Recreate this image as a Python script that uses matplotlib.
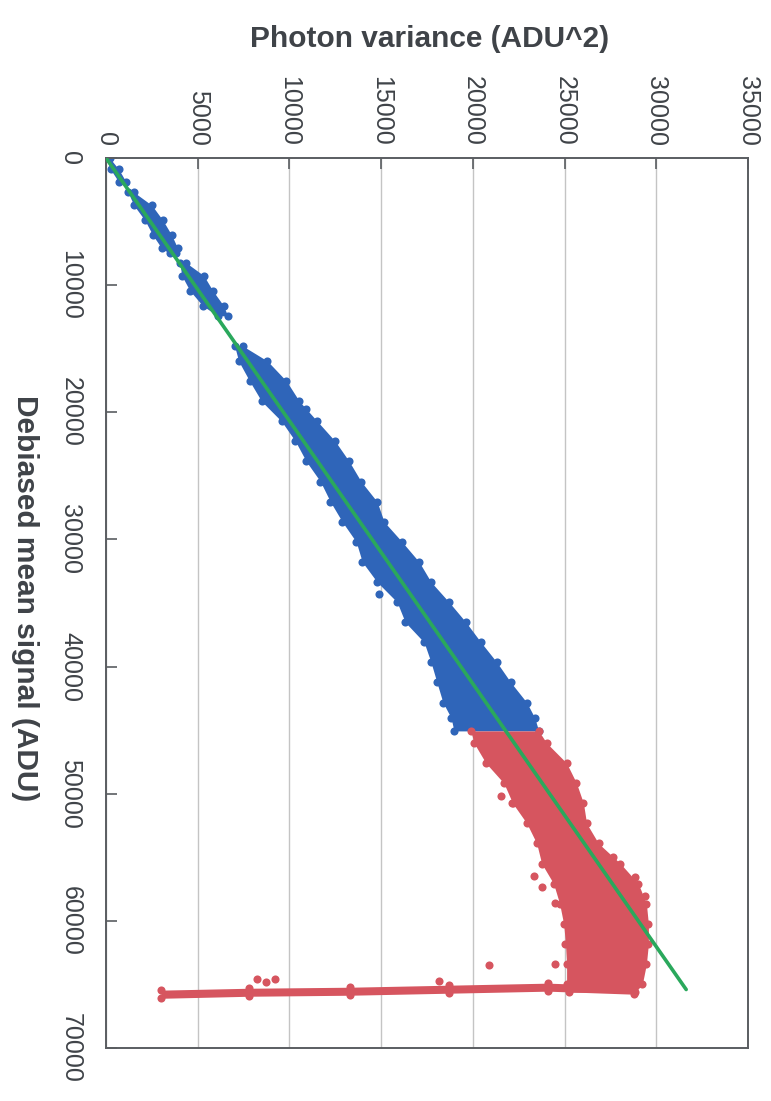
import matplotlib
matplotlib.use("Agg")
import matplotlib.pyplot as plt

# ---------------- data ----------------
# Axis ticks
signal_ticks = [0, 10000, 20000, 30000, 40000, 50000, 60000, 70000]
variance_ticks = [0, 5000, 10000, 15000, 20000, 25000, 30000, 35000]

# Blue (linear regime) point clouds: signal rows with min / max variance
blue1_signal = [0, 900, 1900]
blue1_var_lo = [0, 250, 700]
blue1_var_hi = [200, 700, 1100]

blue2_signal = [2690, 3720, 4900, 6090, 7110, 7510]
blue2_var_lo = [1200, 1520, 2120, 2560, 3040, 3480]
blue2_var_hi = [1520, 2500, 3100, 3590, 3910, 3800]

blue3_signal = [8220, 9250, 10430, 11620, 12410]
blue3_var_lo = [4020, 4130, 4570, 5270, 6090]
blue3_var_hi = [4350, 5330, 5820, 6410, 6630]

blue4_signal = [14780, 15970, 17550, 19130, 20710, 22290, 23870, 25450, 27030,
                28610, 30190, 31770, 33350, 34930, 36510, 38090, 39670, 41250,
                42830, 44020, 45060]
blue4_var_lo = [7010, 7230, 7830, 8480, 9570, 10330, 10920, 11690, 12230,
                12880, 13640, 13970, 14780, 15870, 16310, 17340, 17720, 18040,
                18370, 18810, 18970]
blue4_var_hi = [7450, 8800, 9840, 10540, 11520, 12500, 13260, 13910, 14780,
                15160, 16140, 17070, 17720, 18700, 19620, 20440, 21310, 22070,
                22940, 23370, 23590]

blue_out_var = [10920, 13100, 14890]
blue_out_signal = [19760, 24030, 34310]

# Red (non-linear / saturation regime)
red_signal = [45060, 46010, 47590, 49170, 50750, 52330, 53910, 55490, 57070,
              58650, 60240, 61820, 63400, 64980, 65610]
red_var_lo = [19890, 20060, 20710, 21690, 22170, 22940, 23480, 23750, 24400,
              24730, 24950, 25050, 25110, 25110, 25220]
red_var_hi = [23590, 24020, 25110, 25650, 26030, 26200, 26850, 28040, 29020,
              29460, 29570, 29570, 29460, 29240, 28860]

# Saturated (horizontal) streak
sat_var = [3000, 7800, 13300, 18700, 24100, 28800]
sat_signal_top = [65450, 65300, 65220, 65060, 64900, 65140]
sat_signal_bot = [66090, 65930, 65850, 65690, 65530, 65770]

red_out_var = [21520, 22120, 23320, 23750, 24460, 8210, 8700, 9190, 18150,
               20870, 24460, 27660, 28860, 29400]
red_out_signal = [50200, 50750, 56440, 57310, 58580, 64590, 64820, 64590,
                  64740, 63480, 63400, 54940, 56520, 58020]

# Linear fit
fit_signal = [0, 65400]
fit_variance = [0, 31630]

# ---------------- styling ----------------
BLUE = "#2f65b9"
RED = "#d6555f"
GREEN = "#2aa85c"
TEXT = "#3f4348"
SPINE = "#5a5d61"

plt.rcParams['font.family'] = ['Liberation Sans', 'DejaVu Sans']

fig = plt.figure(figsize=(7.71, 11.01), dpi=100)
ax = fig.add_axes([106 / 771, 1 - 1048 / 1101, 642 / 771, 890 / 1101])

ax.set_xlim(0, 35000)
ax.set_ylim(70000, 0)

# grid
ax.set_xticks(variance_ticks)
ax.set_yticks(signal_ticks)
ax.grid(axis='x', color='#c4c4c4', lw=1.0)
ax.grid(axis='y', visible=False)
ax.set_axisbelow(True)

MS = 34
def band(sig, lo, hi, color):
    ax.fill_betweenx(sig, lo, hi, color=color, lw=0, zorder=2)
    ax.scatter(lo, sig, s=MS, color=color, lw=0, zorder=2)
    ax.scatter(hi, sig, s=MS, color=color, lw=0, zorder=2)

band(blue1_signal, blue1_var_lo, blue1_var_hi, BLUE)
band(blue2_signal, blue2_var_lo, blue2_var_hi, BLUE)
band(blue3_signal, blue3_var_lo, blue3_var_hi, BLUE)
band(blue4_signal, blue4_var_lo, blue4_var_hi, BLUE)
ax.scatter(blue_out_var, blue_out_signal, s=MS, color=BLUE, lw=0, zorder=2)

band(red_signal, red_var_lo, red_var_hi, RED)
ax.fill_between(sat_var, sat_signal_top, sat_signal_bot, color=RED, lw=0, zorder=2)
ax.scatter(sat_var, sat_signal_top, s=MS, color=RED, lw=0, zorder=2)
ax.scatter(sat_var, sat_signal_bot, s=MS, color=RED, lw=0, zorder=2)
ax.scatter(red_out_var, red_out_signal, s=MS, color=RED, lw=0, zorder=2)

ax.plot(fit_variance, fit_signal, color=GREEN, lw=2.6, zorder=3,
        solid_capstyle='round')

# spines
for s in ax.spines.values():
    s.set_color(SPINE)
    s.set_linewidth(1.4)

# ticks
ax.xaxis.set_ticks_position('top')
ax.tick_params(axis='x', top=True, bottom=False, labeltop=True, labelbottom=False,
               direction='in', length=8, width=1.2, color=SPINE, pad=9,
               labelsize=18, labelcolor=TEXT, labelrotation=-90)
ax.tick_params(axis='y', left=True, right=False, direction='in', length=8,
               width=1.2, color=SPINE, pad=17, labelsize=18, labelcolor=TEXT,
               labelrotation=-90)
ax.set_xticklabels([str(v) for v in variance_ticks])
ax.set_yticklabels([str(v) for v in signal_ticks])
for lab in ax.get_yticklabels():
    lab.set_va('center')
for lab in ax.get_xticklabels():
    lab.set_ha('center')

# axis titles
fig.text(430 / 771, 1 - 39 / 1101, "Photon variance (ADU^2)", ha='center',
         va='center', fontsize=21.5, fontweight='bold', color=TEXT)
fig.text(25 / 771, 1 - 598 / 1101, "Debiased mean signal (ADU)", ha='center',
         va='center', fontsize=21.5, fontweight='bold', color=TEXT,
         rotation=-90)

fig.savefig("out.png", dpi=100, facecolor='white')
